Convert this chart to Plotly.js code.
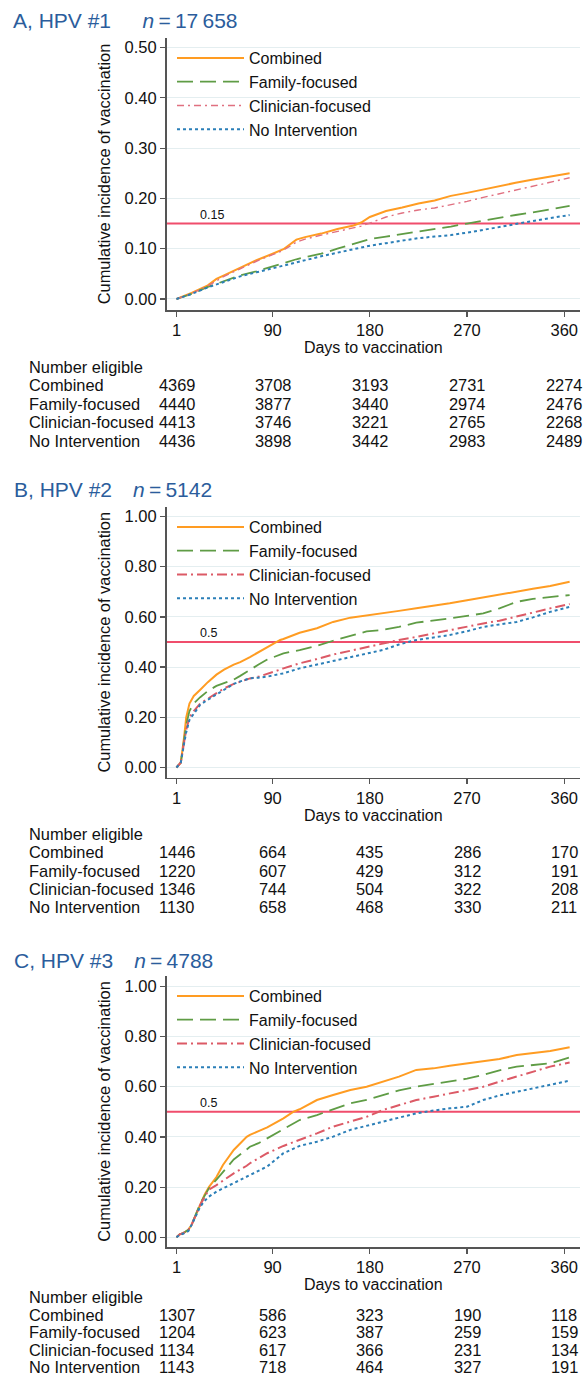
<!DOCTYPE html>
<html>
<head>
<meta charset="utf-8">
<script src="https://cdn.plot.ly/plotly-3.0.1.min.js"></script>
<style>
html,body{margin:0;padding:0;background:#fff;}
#chart{width:583px;height:1388px;}
</style>
</head>
<body>
<div id="chart"></div>
<script>
// ---------- DATA ----------
var seriesNames = ["Combined", "Family-focused", "Clinician-focused", "No Intervention"];
var panelTitles = ["A, HPV #1", "B, HPV #2", "C, HPV #3"];
var panelN = ["17\u2009658", "5142", "4788"];
var thresholds = [0.15, 0.5, 0.5];
var thresholdLabels = ["0.15", "0.5", "0.5"];
var xTickVals = [1, 90, 180, 270, 360];
var tableTitle = "Number eligible";

// Panel A
var daysA = [1, 15, 30, 38, 45, 60, 75, 90, 100, 112, 120, 135, 150, 165, 172, 180, 195, 210, 225, 240, 255, 270, 285, 300, 315, 330, 345, 365];
var combinedA  = [0, 0.012, 0.027, 0.040, 0.047, 0.062, 0.077, 0.090, 0.099, 0.118, 0.123, 0.130, 0.139, 0.146, 0.152, 0.163, 0.175, 0.182, 0.190, 0.196, 0.205, 0.211, 0.218, 0.224, 0.231, 0.237, 0.242, 0.250];
var familyA    = [0, 0.010, 0.024, 0.030, 0.036, 0.047, 0.055, 0.065, 0.071, 0.079, 0.083, 0.090, 0.100, 0.110, 0.115, 0.119, 0.124, 0.129, 0.134, 0.138, 0.144, 0.150, 0.156, 0.161, 0.167, 0.172, 0.177, 0.185];
var clinicianA = [0, 0.011, 0.026, 0.037, 0.045, 0.060, 0.075, 0.088, 0.097, 0.113, 0.119, 0.127, 0.134, 0.141, 0.145, 0.151, 0.163, 0.171, 0.177, 0.181, 0.187, 0.194, 0.202, 0.209, 0.216, 0.224, 0.231, 0.241];
var noIntA     = [0, 0.010, 0.023, 0.029, 0.034, 0.045, 0.053, 0.061, 0.067, 0.074, 0.078, 0.085, 0.092, 0.099, 0.102, 0.106, 0.111, 0.116, 0.121, 0.124, 0.127, 0.132, 0.137, 0.143, 0.149, 0.155, 0.160, 0.167];
var eligibleA = [[4369, 3708, 3193, 2731, 2274], [4440, 3877, 3440, 2974, 2476], [4413, 3746, 3221, 2765, 2268], [4436, 3898, 3442, 2983, 2489]];

// Panel B
var daysB = [1, 5, 8, 10, 13, 17, 23, 30, 38, 45, 54, 60, 69, 77, 85, 97, 100, 115, 131, 146, 162, 177, 192, 207, 223, 239, 254, 270, 285, 300, 316, 331, 347, 365];
var combinedB  = [0, 0.02, 0.12, 0.20, 0.255, 0.285, 0.31, 0.34, 0.37, 0.39, 0.41, 0.42, 0.44, 0.46, 0.48, 0.508, 0.512, 0.537, 0.555, 0.58, 0.597, 0.605, 0.614, 0.624, 0.634, 0.643, 0.654, 0.666, 0.678, 0.688, 0.70, 0.712, 0.723, 0.74];
var familyB    = [0, 0.02, 0.11, 0.17, 0.225, 0.255, 0.28, 0.305, 0.325, 0.335, 0.35, 0.365, 0.39, 0.41, 0.43, 0.448, 0.455, 0.468, 0.485, 0.505, 0.525, 0.542, 0.548, 0.56, 0.577, 0.585, 0.594, 0.604, 0.614, 0.634, 0.66, 0.672, 0.678, 0.687];
var clinicianB = [0, 0.02, 0.10, 0.15, 0.20, 0.225, 0.255, 0.275, 0.295, 0.315, 0.333, 0.343, 0.355, 0.362, 0.372, 0.39, 0.395, 0.415, 0.432, 0.45, 0.465, 0.48, 0.495, 0.508, 0.52, 0.534, 0.548, 0.56, 0.574, 0.585, 0.60, 0.617, 0.634, 0.651];
var noIntB     = [0, 0.02, 0.095, 0.14, 0.19, 0.215, 0.25, 0.27, 0.29, 0.31, 0.333, 0.343, 0.355, 0.358, 0.362, 0.373, 0.375, 0.395, 0.41, 0.425, 0.44, 0.455, 0.468, 0.49, 0.508, 0.518, 0.528, 0.543, 0.56, 0.57, 0.58, 0.598, 0.62, 0.64];
var eligibleB = [[1446, 664, 435, 286, 170], [1220, 607, 429, 312, 191], [1346, 744, 504, 322, 208], [1130, 658, 468, 330, 211]];

// Panel C
var daysC = [1, 4, 7, 12, 15, 19, 23, 27, 31, 38, 44, 54, 66, 69, 77, 85, 100, 109, 115, 131, 146, 162, 177, 192, 207, 223, 239, 254, 270, 285, 300, 316, 331, 347, 365];
var combinedC  = [0, 0.012, 0.016, 0.03, 0.05, 0.09, 0.135, 0.17, 0.20, 0.24, 0.288, 0.348, 0.40, 0.408, 0.423, 0.438, 0.474, 0.50, 0.51, 0.547, 0.567, 0.587, 0.60, 0.62, 0.64, 0.667, 0.673, 0.683, 0.692, 0.70, 0.71, 0.726, 0.735, 0.742, 0.757];
var familyC    = [0, 0.012, 0.016, 0.03, 0.05, 0.09, 0.135, 0.165, 0.195, 0.23, 0.26, 0.31, 0.35, 0.361, 0.375, 0.394, 0.428, 0.45, 0.467, 0.487, 0.51, 0.534, 0.547, 0.567, 0.585, 0.60, 0.61, 0.62, 0.632, 0.647, 0.665, 0.68, 0.686, 0.693, 0.717];
var clinicianC = [0, 0.012, 0.016, 0.03, 0.05, 0.09, 0.13, 0.16, 0.19, 0.208, 0.225, 0.255, 0.285, 0.295, 0.315, 0.335, 0.364, 0.378, 0.388, 0.414, 0.441, 0.461, 0.48, 0.507, 0.527, 0.547, 0.56, 0.574, 0.587, 0.60, 0.62, 0.64, 0.66, 0.68, 0.696];
var noIntC     = [0, 0.01, 0.014, 0.025, 0.05, 0.085, 0.122, 0.145, 0.162, 0.182, 0.195, 0.215, 0.24, 0.248, 0.265, 0.282, 0.335, 0.352, 0.364, 0.381, 0.401, 0.428, 0.445, 0.461, 0.478, 0.494, 0.505, 0.514, 0.52, 0.547, 0.565, 0.58, 0.595, 0.607, 0.624];
var eligibleC = [[1307, 586, 323, 190, 118], [1204, 623, 387, 259, 159], [1134, 617, 366, 231, 134], [1143, 718, 464, 327, 191]];

// ---------- LAYOUT CONSTANTS ----------
var W = 583, H = 1388;
var FONT = "Liberation Sans, Arial, Helvetica, sans-serif";
function px(x) { return x / W; }
function py(y) { return 1 - y / H; }

var panels = [
  {days: daysA, series: [combinedA, familyA, clinicianA, noIntA], elig: eligibleA,
   top: 38, bottom: 310, yr: [-0.0219, 0.5189], dtick: 0.1, titleY: 21, titleX: 11,
   tblY: [367, 385, 403.5, 422, 440.5], legY: 41, gap: "\u2003\u2002"},
  {days: daysB, series: [combinedB, familyB, clinicianB, noIntB], elig: eligibleB,
   top: 506.7, bottom: 777.7, yr: [-0.0406, 1.039], dtick: 0.2, titleY: 490, titleX: 12,
   tblY: [834, 852, 871, 889, 907], legY: 510, gap: "\u2002\u2002"},
  {days: daysC, series: [combinedC, familyC, clinicianC, noIntC], elig: eligibleC,
   top: 976, bottom: 1247, yr: [-0.0386, 1.041], dtick: 0.2, titleY: 960, titleX: 12,
   tblY: [1297, 1314.5, 1332, 1349.5, 1367], legY: 979, gap: "\u2002\u2002"}
];

var colors = ["#ff9c22", "#5f9c45", "#dc5a66", "#2b7fb8"];
var dashes = ["solid", "16px,7px", "10px,4px,2px,4px", "3px,3px"];
var widths = [2, 1.8, 2, 2];

var traces = [];
var layout = {
  width: W, height: H,
  margin: {l: 0, r: 0, t: 0, b: 0},
  paper_bgcolor: "#ffffff", plot_bgcolor: "#ffffff",
  font: {family: FONT, color: "#111", size: 16},
  showlegend: true,
  annotations: [], shapes: []
};

panels.forEach(function (p, i) {
  var sfx = i === 0 ? "" : String(i + 1);
  var xa = "x" + sfx, ya = "y" + sfx;
  var legName = "legend" + sfx;
  p.series.forEach(function (vals, k) {
    var dash = dashes[k];
    var w = widths[k];
    if (k === 2 && i === 0) { dash = "7px,4px,2px,4px"; w = 1.4; }
    traces.push({
      type: "scatter", mode: "lines",
      x: p.days, y: vals, name: seriesNames[k],
      xaxis: xa, yaxis: ya, legend: legName,
      line: {color: k === 2 && i === 0 ? "#e07080" : colors[k], width: w, dash: dash, shape: "linear"},
      hoverinfo: "skip"
    });
  });

  layout["xaxis" + sfx] = {
    domain: [px(166.5), px(580)], anchor: ya,
    range: [-8.26, 374.6], tickmode: "array", tickvals: xTickVals,
    ticks: "outside", ticklen: 5, tickwidth: 1.2, tickcolor: "#555",
    showline: true, linecolor: "#555", linewidth: 1.5,
    showgrid: false, zeroline: false, fixedrange: true,
    tickfont: {size: 16.5, color: "#111"},
    title: {text: "Days to vaccination", font: {size: 16}, standoff: 1}
  };
  layout["yaxis" + sfx] = {
    domain: [py(p.bottom), py(p.top)], anchor: xa,
    range: p.yr, dtick: p.dtick, tick0: 0, tickformat: ".2f",
    ticks: "outside", ticklen: 5, tickwidth: 1.2, tickcolor: "#555",
    showline: true, linecolor: "#555", linewidth: 1.5,
    showgrid: true, gridcolor: "#e4eef0", gridwidth: 1,
    zeroline: false, fixedrange: true,
    tickfont: {size: 16.5, color: "#111"},
    title: {text: "Cumulative incidence of vaccination", font: {size: 16.4}, standoff: 10}
  };
  layout[legName] = {
    x: px(172), y: py(p.legY), xanchor: "left", yanchor: "top",
    bgcolor: "rgba(0,0,0,0)", borderwidth: 0,
    font: {size: 16, color: "#111", family: FONT},
    itemwidth: 67, tracegroupgap: 0
  };

  // threshold line
  layout.shapes.push({
    type: "line", xref: xa + " domain", yref: ya,
    x0: 0, x1: 1, y0: thresholds[i], y1: thresholds[i],
    line: {color: "#f04d6c", width: 2}, layer: "below"
  });
  layout.annotations.push({
    xref: xa, yref: ya, x: 21, y: thresholds[i], text: thresholdLabels[i],
    showarrow: false, xanchor: "left", yanchor: "bottom", yshift: 0,
    font: {size: 12.5, color: "#111"}
  });

  // panel title
  layout.annotations.push({
    xref: "paper", yref: "paper", x: px(p.titleX), y: py(p.titleY),
    xanchor: "left", yanchor: "middle", showarrow: false,
    text: panelTitles[i] + p.gap + "<i>n</i>\u2009=\u2009" + panelN[i],
    font: {size: 21, color: "#2b5d9c"}
  });

  // table
  layout.annotations.push({
    xref: "paper", yref: "paper", x: px(27), y: py(p.tblY[0]),
    xanchor: "left", yanchor: "middle", showarrow: false,
    text: tableTitle, font: {size: 16.4, color: "#111"}
  });
  seriesNames.forEach(function (nm, k) {
    layout.annotations.push({
      xref: "paper", yref: "paper", x: px(27), y: py(p.tblY[k + 1]),
      xanchor: "left", yanchor: "middle", showarrow: false,
      text: nm, font: {size: 16.4, color: "#111"}
    });
    p.elig[k].forEach(function (v, j) {
      layout.annotations.push({
        xref: xa, yref: "paper", x: xTickVals[j], y: py(p.tblY[k + 1]),
        xanchor: "center", yanchor: "middle", showarrow: false,
        text: String(v), font: {size: 16.4, color: "#111"}
      });
    });
  });
});

Plotly.newPlot("chart", traces, layout, {staticPlot: true, displayModeBar: false});
</script>
</body>
</html>
